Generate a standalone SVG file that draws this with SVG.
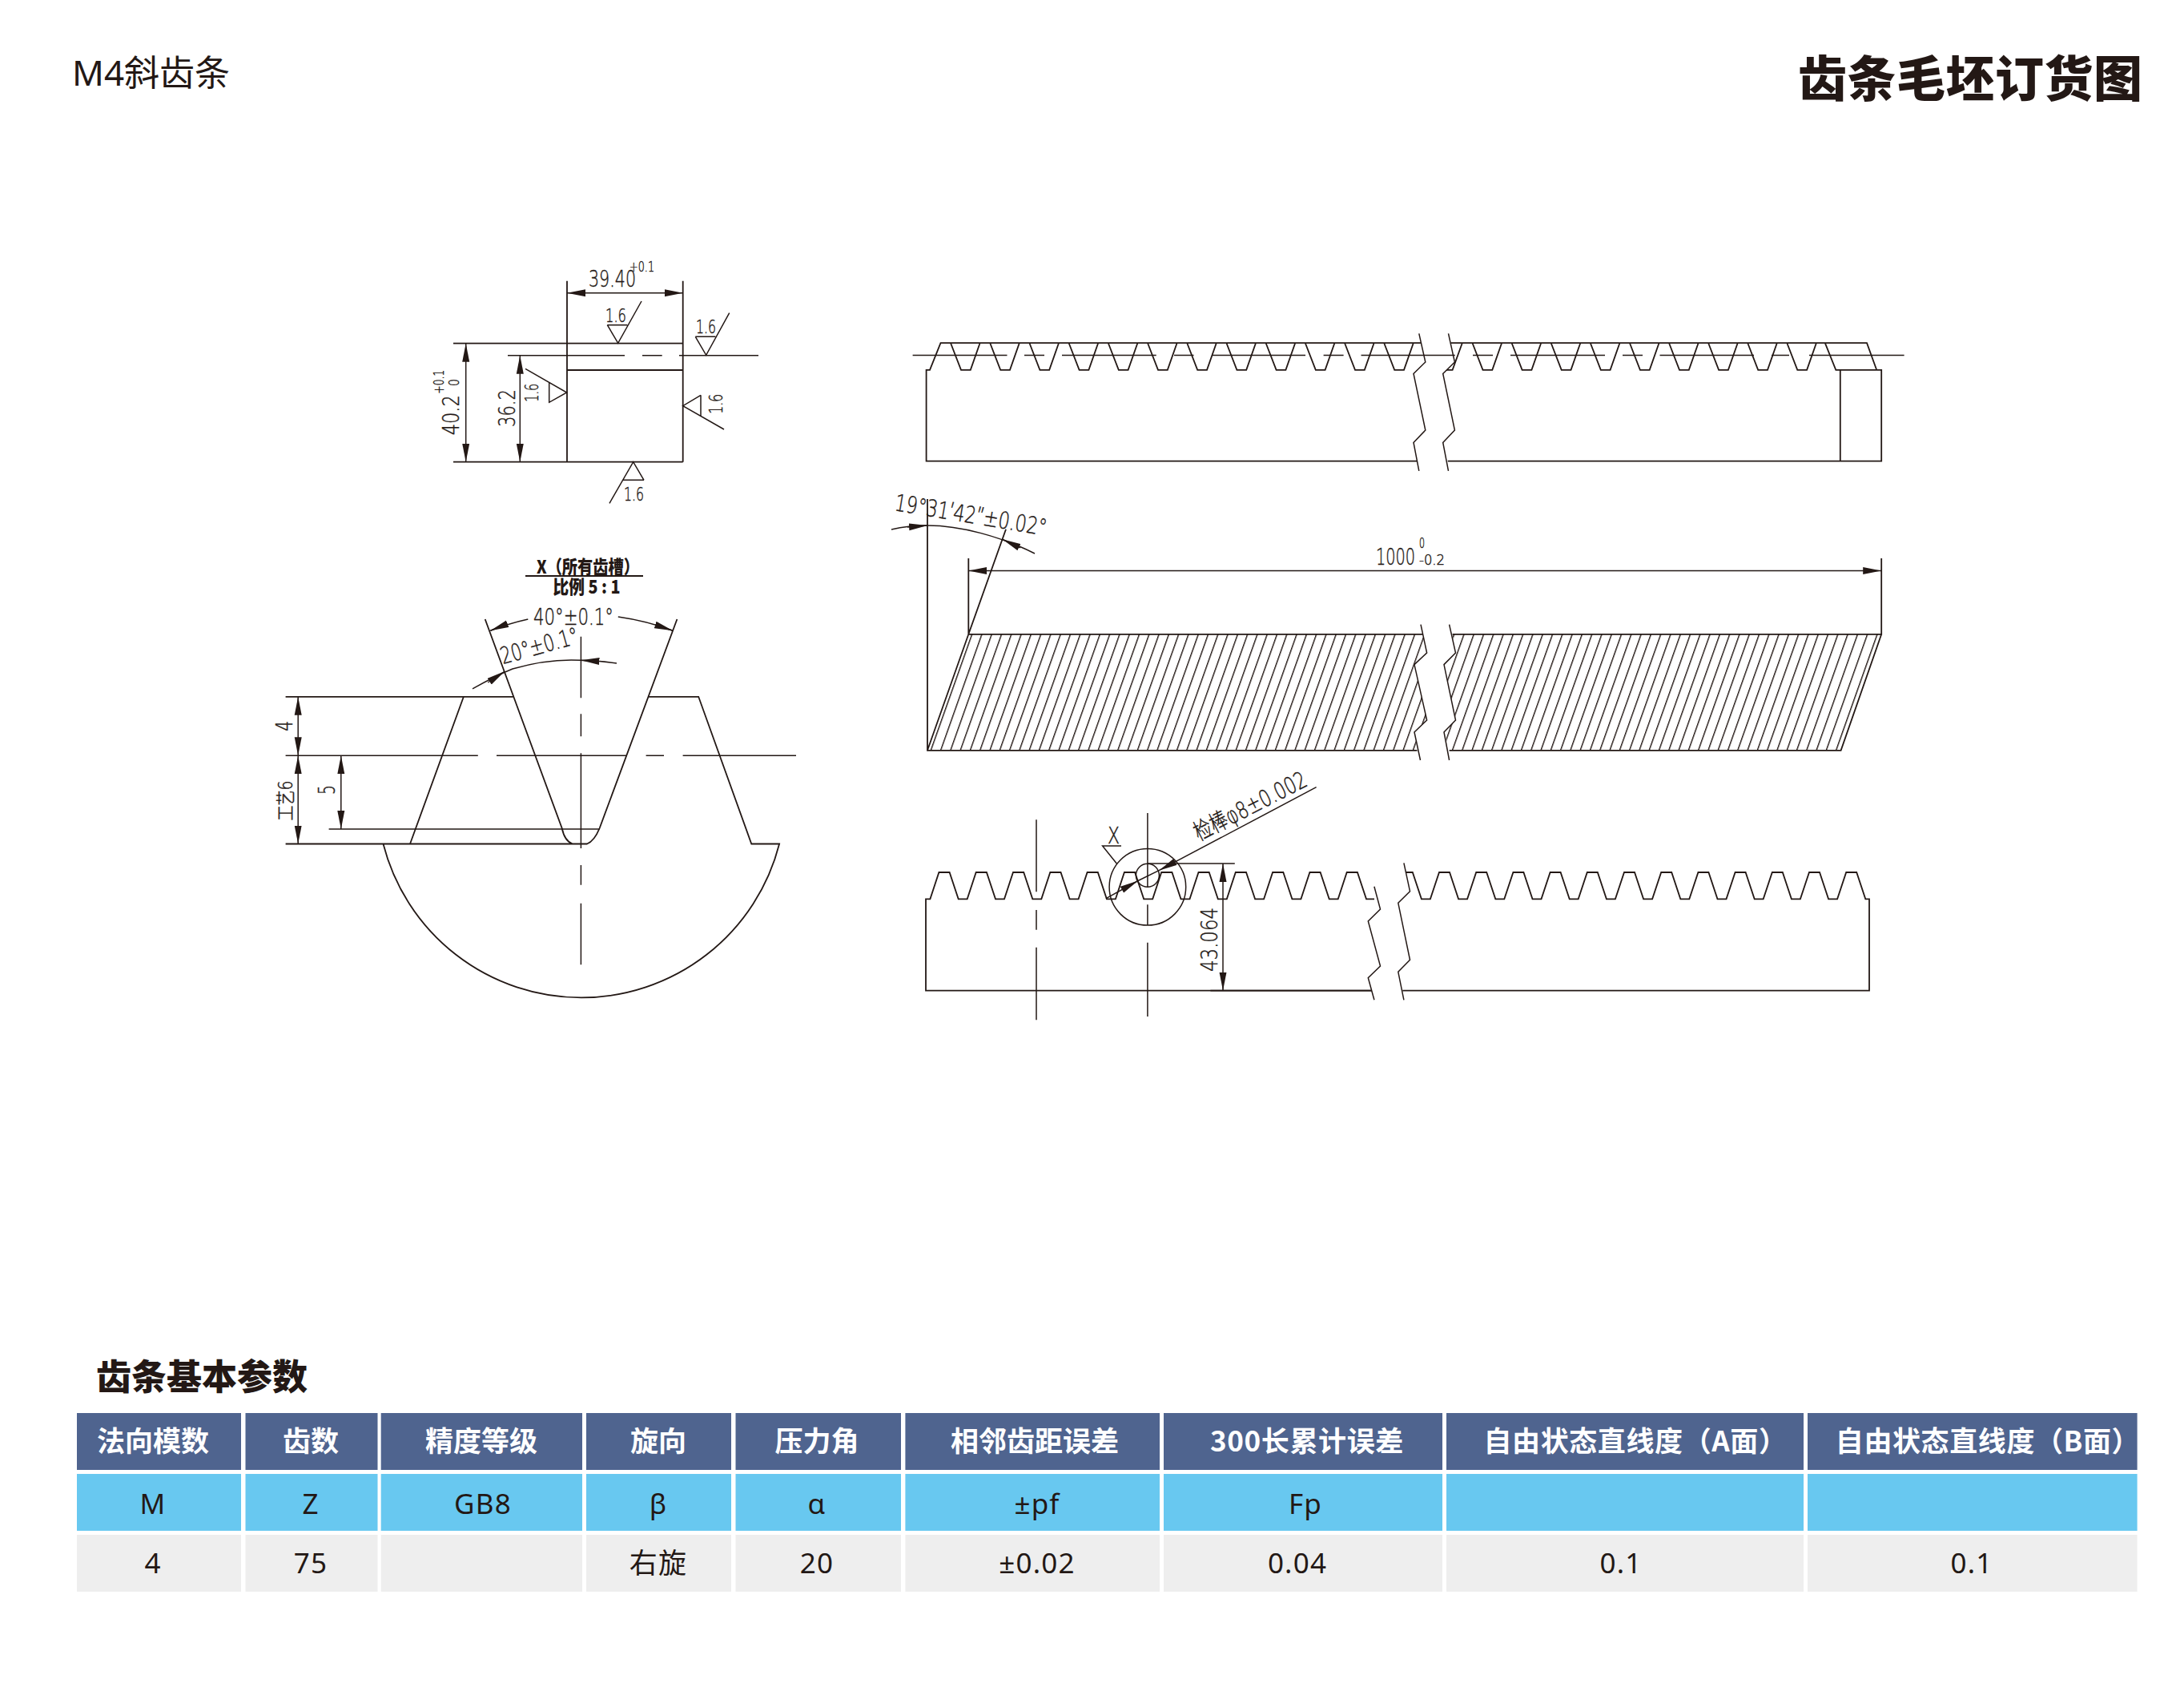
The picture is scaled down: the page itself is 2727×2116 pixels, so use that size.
<svg xmlns="http://www.w3.org/2000/svg" xmlns:xlink="http://www.w3.org/1999/xlink" width="2727" height="2116" viewBox="0 0 2727 2116">
<style>
.l{fill:none;stroke:#231815;stroke-width:1.8}
.d{fill:none;stroke:#231815;stroke-width:1.5}
.t{font-family:"DejaVu Sans","Noto Sans CJK SC",sans-serif;font-weight:200;fill:#231815;stroke:#231815;stroke-width:.45;font-size:29px}
.s{font-size:23px}
.x{font-size:17px}
.b{font-family:"Noto Sans CJK SC",sans-serif;font-weight:900;fill:#231815;font-size:23px}
.h{font-family:"Noto Sans CJK SC",sans-serif;font-weight:700;fill:#fff;font-size:35px;text-anchor:middle}
.c{font-family:"Noto Sans","Noto Sans CJK SC",sans-serif;font-weight:400;fill:#231815;font-size:35px;letter-spacing:1.2px;text-anchor:middle}
.hd{fill:#4f648f}.cy{fill:#68c8f0}.gr{fill:#eeeeee}
</style>
<defs>
<marker id="arr" viewBox="0 -5 23 10" markerWidth="23" markerHeight="10" markerUnits="userSpaceOnUse" refX="23" refY="0" orient="auto-start-reverse"><path d="M0,-4.5 L23,0 L0,4.5Z" fill="#231815"/></marker>
<path id="g1" class="l" d="M0,0 L13,33.6 H24.8 L36.6,0"/>
<pattern id="hatch" patternUnits="userSpaceOnUse" width="12.286" height="20" patternTransform="translate(1212.9,791.8) skewX(-19.53)"><rect x="0" y="0" width="1.5" height="20" fill="#231815"/></pattern>
</defs>
<g id="titles">
<text x="90" y="107" style="font-family:'Noto Sans','Noto Sans CJK SC',sans-serif;font-size:44px;fill:#231815" textLength="197" lengthAdjust="spacingAndGlyphs">M4斜齿条</text>
<text x="2245" y="121" style="font-family:'Noto Sans CJK SC',sans-serif;font-weight:900;font-size:61px;fill:#231815" textLength="430">齿条毛坯订货图</text>
<text x="120" y="1735" style="font-family:'Noto Sans CJK SC',sans-serif;font-weight:900;font-size:44px;fill:#231815" textLength="264">齿条基本参数</text>
</g>
<g id="section-view">
<path class="l" d="M708,350.7V576.7M852.7,350.7V576.7M566,428.7H852.7M708,462H852.7M566,576.7H852.7"/>
<path class="d" d="M634,443.7H780M802,443.7H826.7M848,443.7H947"/>
<line class="d" x1="708" y1="365.7" x2="852.7" y2="365.7" marker-start="url(#arr)" marker-end="url(#arr)"/>
<line class="d" x1="581.7" y1="428.7" x2="581.7" y2="576.7" marker-start="url(#arr)" marker-end="url(#arr)"/>
<line class="d" x1="649.3" y1="443.7" x2="649.3" y2="576.7" marker-start="url(#arr)" marker-end="url(#arr)"/>
<path class="d" d="M758.3,405.7H783.3M758.3,405.7L771.7,428.3L801,376"/>
<path class="d" d="M868.3,420.3H893.3M868.3,420.3L881.7,443.3L910.7,390.7"/>
<path class="d" d="M685.7,477.7V502.3L707.7,490L656,460.3"/>
<path class="d" d="M875,493.3V520M875,493.3L852.7,506.7L904,536"/>
<path class="d" d="M778.3,599.3H804M804,599.3L790.7,576.7L761,628.3"/>
<text class="t" x="735" y="358.3" textLength="59" lengthAdjust="spacingAndGlyphs">39.40</text>
<text class="t x" x="786" y="339.3" textLength="31" lengthAdjust="spacingAndGlyphs">+0.1</text>
<text class="t s" x="756" y="401.7" textLength="26" lengthAdjust="spacingAndGlyphs">1.6</text>
<text class="t s" x="869" y="416" textLength="25" lengthAdjust="spacingAndGlyphs">1.6</text>
<text class="t s" x="779" y="625" textLength="25" lengthAdjust="spacingAndGlyphs">1.6</text>
<text class="t s" transform="translate(671.7,501.7) rotate(-90)" textLength="23" lengthAdjust="spacingAndGlyphs">1.6</text>
<text class="t s" transform="translate(901.7,516.7) rotate(-90)" textLength="25" lengthAdjust="spacingAndGlyphs">1.6</text>
<text class="t" transform="translate(573.3,543.3) rotate(-90)" textLength="50" lengthAdjust="spacingAndGlyphs">40.2</text>
<text class="t x" transform="translate(554.3,491.7) rotate(-90)" textLength="30" lengthAdjust="spacingAndGlyphs">+0.1</text>
<text class="t x" transform="translate(573.3,482) rotate(-90)" textLength="9" lengthAdjust="spacingAndGlyphs">0</text>
<text class="t" transform="translate(642.7,533) rotate(-90)" textLength="47" lengthAdjust="spacingAndGlyphs">36.2</text>
</g>
<g id="rack-top-view">
<path class="l" d="M1769.5,575.7H1156.6V461.8H1161L1174.5,428.2H1774M1811.6,428.2H2331L2343.2,461.8M1807.7,575.7H2349.2V461.8H2292.3L2278.8,428.2M2297.8,461.8V575.7M1825.8,428.2L1813.6,461.8H1806"/>
<use href="#g1" x="1187" y="428.2"/><use href="#g1" x="1236.2" y="428.2"/><use href="#g1" x="1285.4" y="428.2"/><use href="#g1" x="1334.6" y="428.2"/><use href="#g1" x="1383.8" y="428.2"/><use href="#g1" x="1433" y="428.2"/><use href="#g1" x="1482.2" y="428.2"/><use href="#g1" x="1531.4" y="428.2"/><use href="#g1" x="1580.6" y="428.2"/><use href="#g1" x="1629.8" y="428.2"/><use href="#g1" x="1679" y="428.2"/><use href="#g1" x="1728.2" y="428.2"/>
<use href="#g1" x="1838.5" y="428.2"/><use href="#g1" x="1887.6" y="428.2"/><use href="#g1" x="1936.7" y="428.2"/><use href="#g1" x="1985.8" y="428.2"/><use href="#g1" x="2034.9" y="428.2"/><use href="#g1" x="2084" y="428.2"/><use href="#g1" x="2133.1" y="428.2"/><use href="#g1" x="2182.2" y="428.2"/><use href="#g1" x="2231.3" y="428.2"/>
<path class="d" d="M1139.6,443.6H1257.5M1279,443.6H1304M1326,443.6H1443.7M1466,443.6H1490.5M1513,443.6H1630M1652.6,443.6H1677.6M1699.5,443.6H1816.8M1839,443.6H1864M1886,443.6H2004M2026,443.6H2051M2072.5,443.6H2190M2212,443.6H2234M2259,443.6H2377.6"/>
<path class="d" d="M1771.8,416.4L1779.8,452L1765,466.4L1779.8,537L1765,552.5L1771.8,587.9"/>
<path class="d" d="M1808.5,416.4L1816.4,452L1801.7,466.4L1816.4,537L1801.7,552.5L1808.5,587.9"/>
</g>
<g id="rack-helix-view">
<path fill="url(#hatch)" d="M1158,936.8L1209.3,791.8H1776L1781.6,815L1766,829.6L1781.6,899L1766,914L1769.5,936.8Z"/>
<path fill="url(#hatch)" d="M1813.6,791.8L1817.5,815L1803,829.6L1817.5,899L1803,914L1809.6,936.8H2298.6L2349.2,791.8Z"/>
<path class="l" d="M1158,623V936.8H1769.5M1158,936.8L1209.3,791.8H1776M1209.3,697V791.8L1256,660.7M1813.6,791.8H2349.2V697M2349.2,791.8L2298.6,936.8H1809.6"/>
<path class="d" d="M1774,779.6L1781.6,815L1766,829.6L1781.6,899L1766,914L1773.5,949"/>
<path class="d" d="M1809.6,779.6L1817.5,815L1803,829.6L1817.5,899L1803,914L1809.6,949"/>
<line class="d" x1="1209.3" y1="712.5" x2="2349.2" y2="712.5" marker-start="url(#arr)" marker-end="url(#arr)"/>
<path class="d" d="M1113,661C1130,657 1145,656 1158,656C1200,656 1250,670 1292,691"/>
<line class="d" x1="1133" y1="658" x2="1158" y2="656" marker-end="url(#arr)"/>
<line class="d" x1="1274" y1="683.9" x2="1251.7" y2="673.2" marker-end="url(#arr)"/>
<text class="t" transform="translate(1116,637) rotate(9.5)" textLength="192" lengthAdjust="spacingAndGlyphs">19°31′42″±0.02°</text>
<text class="t" x="1718" y="704.6" textLength="49" lengthAdjust="spacingAndGlyphs">1000</text>
<text class="t x" x="1772" y="684" textLength="7" lengthAdjust="spacingAndGlyphs">0</text>
<text class="t x" x="1772" y="704.6" textLength="32" lengthAdjust="spacingAndGlyphs">-0.2</text>
</g>
<g id="rack-front-view">
<path class="l" d="M1712.8,1236.7H1156V1122.3H1161.4l11,-33.3h13.2l11.1,33.3h11l11,-33.3h13.2l11.1,33.3h11l11,-33.3h13.2l11.1,33.3h11l11,-33.3h13.2l11.1,33.3h11l11,-33.3h13.2l11.1,33.3h11l11,-33.3h13.2l11.1,33.3h11l11,-33.3h13.2l11.1,33.3h11l11,-33.3h13.2l11.1,33.3h11l11,-33.3h13.2l11.1,33.3h11l11,-33.3h13.2l11.1,33.3h11l11,-33.3h13.2l11.1,33.3h11l11,-33.3h13.2l11.1,33.3h10"/>
<path class="l" d="M1755,1089H1763.8l11.1,33.3h11l11.1,-33.3h13l11.1,33.3h11l11.1,-33.3h13l11.1,33.3h11l11.1,-33.3h13l11.1,33.3h11l11.1,-33.3h13l11.1,33.3h11l11.1,-33.3h13l11.1,33.3h11l11.1,-33.3h13l11.1,33.3h11l11.1,-33.3h13l11.1,33.3h11l11.1,-33.3h13l11.1,33.3h11l11.1,-33.3h13l11.1,33.3h11l11.1,-33.3h13l11.1,33.3h11l11.1,-33.3h13l11.1,33.3h11l11.1,-33.3h13l11.1,33.3H2334V1236.7H1751.3"/>
<path class="d" d="M1715.9,1106.7L1723.5,1135L1708.3,1150L1723.5,1206L1708.3,1220.7L1715.9,1248.3"/>
<path class="d" d="M1752.9,1077.3L1760.5,1112.7L1745.8,1127.3L1760.5,1198.3L1745.8,1213.3L1752.9,1248.3"/>
<path class="d" d="M1294,1023.3V1113.3M1294,1136V1160.7M1294,1182.7V1273.3M1432.9,1015V1108M1432.9,1129.3V1155M1432.9,1176.7V1269"/>
<circle class="d" cx="1432.9" cy="1107.3" r="47.8"/>
<circle class="d" cx="1432.9" cy="1092.7" r="14.5"/>
<path class="d" d="M1432.9,1078H1541.8"/>
<line class="d" x1="1527" y1="1078" x2="1527" y2="1236.7" marker-start="url(#arr)" marker-end="url(#arr)"/>
<line class="d" x1="1643.6" y1="982.7" x2="1447.1" y2="1086.7" marker-end="url(#arr)"/>
<line class="d" x1="1381" y1="1121.7" x2="1421" y2="1099.5" marker-end="url(#arr)"/>
<path class="d" d="M1421,1099.5L1447.1,1086.7"/>
<path class="l" d="M1511.4,1236.7H1712.8"/>
<path class="d" d="M1400,1056H1376.6L1394.5,1078.3"/>
<text class="t" x="1383" y="1053" textLength="15" lengthAdjust="spacingAndGlyphs">X</text>
<text class="t" transform="translate(1497,1050) rotate(-27)" textLength="154" lengthAdjust="spacingAndGlyphs">检棒φ8±0.002</text>
<text class="t" transform="translate(1519.5,1213) rotate(-90)" textLength="80" lengthAdjust="spacingAndGlyphs">43.064</text>
</g>
<g id="tooth-detail">
<path class="l" d="M356.6,869.8H640.5M810,869.8H872.2L938.3,1053.5H973.1A255.3,255.3 0 0 1 478.5,1053.5H715Q705,1050 701.7,1034L605.7,773M845.4,773L748.6,1034Q742,1050 733,1053.5H715M578.9,869.8L512,1053.5M356.6,1053.5H478.5"/>
<path class="d" d="M356.6,943.3H596.8M620,943.3H783M806.6,943.3H829M852.6,943.3H994M410.6,1035H748.6"/>
<path class="d" d="M725.4,794.8V871.3M725.4,891.2V919.2M725.4,940.2V1059M725.4,1080V1104.8M725.4,1127.8V1204.3"/>
<path class="d" d="M612.4,787.2A330,330 0 0 1 659.3,773M771.8,770A330,330 0 0 1 840,787.2"/>
<line class="d" x1="633" y1="779" x2="612.4" y2="787.2" marker-end="url(#arr)"/>
<line class="d" x1="818" y1="780" x2="840" y2="787.2" marker-end="url(#arr)"/>
<path class="d" d="M590,859.9Q620,843 640,835Q685,822 725.4,824.3Q750,825 770,828.1"/>
<line class="d" x1="609.3" y1="852" x2="630.3" y2="838" marker-end="url(#arr)"/>
<line class="d" x1="748" y1="825.5" x2="725.4" y2="824.3" marker-end="url(#arr)"/>
<line class="d" x1="372.2" y1="869.8" x2="372.2" y2="943.3" marker-start="url(#arr)" marker-end="url(#arr)"/>
<line class="d" x1="372.2" y1="943.3" x2="372.2" y2="1053.5" marker-start="url(#arr)" marker-end="url(#arr)"/>
<line class="d" x1="425.8" y1="943.3" x2="425.8" y2="1035" marker-start="url(#arr)" marker-end="url(#arr)"/>
<path class="l" d="M656,719H803"/>
<text class="b" x="670" y="716" textLength="128" lengthAdjust="spacingAndGlyphs">X（所有齿槽）</text>
<text class="b" x="690.5" y="741" textLength="84" lengthAdjust="spacingAndGlyphs">比例 5 : 1</text>
<text class="t" x="666" y="780" textLength="100" lengthAdjust="spacingAndGlyphs">40°±0.1°</text>
<text class="t" transform="translate(628,829.3) rotate(-15.6)" textLength="100" lengthAdjust="spacingAndGlyphs">20°±0.1°</text>
<text class="t" transform="translate(364.6,912.7) rotate(-90)" textLength="13" lengthAdjust="spacingAndGlyphs">4</text>
<text class="t" transform="translate(418.2,992) rotate(-90)" textLength="12" lengthAdjust="spacingAndGlyphs">5</text>
<text class="t" style="font-size:24px" transform="translate(364.6,1024.4) rotate(-90)" textLength="50" lengthAdjust="spacingAndGlyphs">工艺6</text>
</g>
<g id="table">
<g id="row-header">
<rect class="hd" x="96" y="1764" width="205" height="71"/><rect class="hd" x="306.5" y="1764" width="165" height="71"/><rect class="hd" x="475.7" y="1764" width="251.3" height="71"/><rect class="hd" x="732" y="1764" width="181" height="71"/><rect class="hd" x="918.5" y="1764" width="206.5" height="71"/><rect class="hd" x="1130.4" y="1764" width="317.6" height="71"/><rect class="hd" x="1453" y="1764" width="348" height="71"/><rect class="hd" x="1806" y="1764" width="446" height="71"/><rect class="hd" x="2257" y="1764" width="411.6" height="71"/>
<text class="h" x="191" y="1812">法向模数</text><text class="h" x="388" y="1812">齿数</text><text class="h" x="601" y="1812">精度等级</text><text class="h" x="822" y="1812">旋向</text><text class="h" x="1020" y="1812">压力角</text><text class="h" x="1292" y="1812">相邻齿距误差</text><text class="h" x="1632" y="1812" style="letter-spacing:.6px">300长累计误差</text><text class="h" x="2042" y="1812" style="letter-spacing:.6px">自由状态直线度（A面）</text><text class="h" x="2482" y="1812" style="letter-spacing:.6px">自由状态直线度（B面）</text>
</g>
<g id="row-symbols">
<rect class="cy" x="96" y="1840" width="205" height="71"/><rect class="cy" x="306.5" y="1840" width="165" height="71"/><rect class="cy" x="475.7" y="1840" width="251.3" height="71"/><rect class="cy" x="732" y="1840" width="181" height="71"/><rect class="cy" x="918.5" y="1840" width="206.5" height="71"/><rect class="cy" x="1130.4" y="1840" width="317.6" height="71"/><rect class="cy" x="1453" y="1840" width="348" height="71"/><rect class="cy" x="1806" y="1840" width="446" height="71"/><rect class="cy" x="2257" y="1840" width="411.6" height="71"/>
<text class="c" x="191" y="1890">M</text><text class="c" x="388" y="1890">Z</text><text class="c" x="603" y="1890">GB8</text><text class="c" x="822" y="1890">β</text><text class="c" x="1020" y="1890">α</text><text class="c" x="1295" y="1890">±pf</text><text class="c" x="1630" y="1890">Fp</text>
</g>
<g id="row-values">
<rect class="gr" x="96" y="1916" width="205" height="71"/><rect class="gr" x="306.5" y="1916" width="165" height="71"/><rect class="gr" x="475.7" y="1916" width="251.3" height="71"/><rect class="gr" x="732" y="1916" width="181" height="71"/><rect class="gr" x="918.5" y="1916" width="206.5" height="71"/><rect class="gr" x="1130.4" y="1916" width="317.6" height="71"/><rect class="gr" x="1453" y="1916" width="348" height="71"/><rect class="gr" x="1806" y="1916" width="446" height="71"/><rect class="gr" x="2257" y="1916" width="411.6" height="71"/>
<text class="c" x="191" y="1964">4</text><text class="c" x="388" y="1964">75</text><text class="c" x="822" y="1964">右旋</text><text class="c" x="1020" y="1964">20</text><text class="c" x="1295" y="1964">±0.02</text><text class="c" x="1620" y="1964">0.04</text><text class="c" x="2024" y="1964">0.1</text><text class="c" x="2462" y="1964">0.1</text>
</g>
</g>
</svg>
